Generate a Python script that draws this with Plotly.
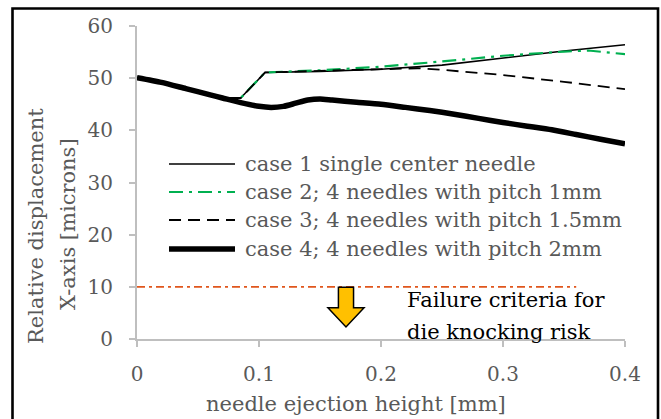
import plotly.graph_objects as go

# Needle ejection height [mm] and X-axis relative displacement [microns]
x_case1 = [0, 0.02, 0.04, 0.06, 0.07, 0.085, 0.105, 0.15, 0.2, 0.25, 0.3, 0.35, 0.4]
y_case1 = [50.1, 49.1, 47.9, 46.7, 46.2, 46.2, 51.1, 51.3, 51.7, 52.5, 53.9, 55.2, 56.4]

x_case2 = [0, 0.02, 0.04, 0.06, 0.07, 0.085, 0.105, 0.15, 0.2, 0.25, 0.3, 0.35, 0.37, 0.4]
y_case2 = [50.1, 49.1, 47.9, 46.7, 46.2, 46.2, 51.1, 51.5, 52.2, 53.2, 54.3, 55.1, 55.3, 54.6]

x_case3 = [0, 0.02, 0.04, 0.06, 0.07, 0.085, 0.105, 0.15, 0.2, 0.23, 0.25, 0.3, 0.35, 0.4]
y_case3 = [50.1, 49.1, 47.9, 46.7, 46.2, 46.2, 51.1, 51.4, 51.8, 51.9, 51.6, 50.6, 49.3, 47.9]

x_case4 = [0, 0.02, 0.04, 0.06, 0.07, 0.085, 0.1, 0.11, 0.12, 0.13, 0.14, 0.15, 0.16,
           0.18, 0.2, 0.22, 0.24, 0.26, 0.28, 0.3, 0.32, 0.34, 0.36, 0.38, 0.4]
y_case4 = [50.1, 49.2, 48.0, 46.8, 46.2, 45.3, 44.6, 44.4, 44.6, 45.2, 45.8, 46.0, 45.8,
           45.4, 45.0, 44.4, 43.8, 43.1, 42.3, 41.5, 40.8, 40.1, 39.2, 38.3, 37.4]

case_names = [
    "case 1 single center needle",
    "case 2; 4 needles with pitch 1mm",
    "case 3; 4 needles with pitch 1.5mm",
    "case 4; 4 needles with pitch 2mm",
]

# Failure criterion threshold
threshold_x = [0, 0.36]
threshold_y = [10, 10]
failure_text = ["Failure criteria for", "die knocking risk"]

x_ticks = [0, 0.1, 0.2, 0.3, 0.4]
y_ticks = [0, 10, 20, 30, 40, 50, 60]

FONT = "DejaVu Serif"
GRAY_TXT = "#595959"
AXIS_GRAY = "#bfbfbf"
GREEN = "#00b050"
ORANGE = "#e0561c"

styles = [
    dict(color="black", width=1.6, dash="solid"),
    dict(color=GREEN, width=2.2, dash="14px,6px,3px,6px"),
    dict(color="black", width=1.8, dash="12px,7px"),
    dict(color="black", width=5.5, dash="solid"),
]

fig = go.Figure()
series = [(x_case1, y_case1), (x_case2, y_case2), (x_case3, y_case3), (x_case4, y_case4)]
for (xs, ys), name, st in zip(series, case_names, styles):
    fig.add_trace(go.Scatter(
        x=xs, y=ys, mode="lines", name=name, showlegend=False,
        line=dict(color=st["color"], width=st["width"], dash=st["dash"],
                  shape="spline" if st["width"] > 4 else "linear", smoothing=0.6),
    ))

fig.add_trace(go.Scatter(
    x=threshold_x, y=threshold_y, mode="lines", showlegend=False,
    line=dict(color=ORANGE, width=1.8, dash="8px,4px,3px,4px"),
))

W, H = 661, 419
L, R, T, B = 137, 36, 26, 80
PW, PH = W - L - R, H - T - B


def px_x(p):
    return (p - L) / PW


def px_y(p):
    return (H - B - p) / PH


shapes = []
annotations = []

# Outer chart frame
shapes.append(dict(type="rect", xref="paper", yref="paper",
                   x0=px_x(12.5), x1=px_x(658), y0=px_y(430), y1=px_y(8.5),
                   line=dict(color="black", width=2.6), fillcolor="rgba(0,0,0,0)"))

# Legend drawn inside the plot area
legend_rows = [164, 192, 220, 249]
for name, st, ry in zip(case_names, styles, legend_rows):
    shapes.append(dict(type="line", xref="paper", yref="paper",
                       x0=px_x(169), x1=px_x(235), y0=px_y(ry), y1=px_y(ry),
                       line=dict(color=st["color"], width=st["width"], dash=st["dash"])))
    annotations.append(dict(text=name, xref="paper", yref="paper",
                            x=px_x(243), y=px_y(ry), xanchor="left", yanchor="middle",
                            showarrow=False, font=dict(family=FONT, size=21, color=GRAY_TXT)))

# Down arrow below the threshold line
ax_c, shaft_w, head_w = 0.1713, 0.0062, 0.0148
y_top, y_head, y_tip = 9.9, 6.0, 2.3
arrow_path = (f"M {ax_c - shaft_w},{y_top} L {ax_c + shaft_w},{y_top} "
              f"L {ax_c + shaft_w},{y_head} L {ax_c + head_w},{y_head} "
              f"L {ax_c},{y_tip} L {ax_c - head_w},{y_head} "
              f"L {ax_c - shaft_w},{y_head} Z")
shapes.append(dict(type="path", xref="x", yref="y", path=arrow_path,
                   fillcolor="#ffc000", line=dict(color="black", width=1.5)))

# Failure criterion note
for txt, py in zip(failure_text, [300, 332]):
    annotations.append(dict(text=txt, xref="paper", yref="paper",
                            x=px_x(405), y=px_y(py), xanchor="left", yanchor="middle",
                            showarrow=False, font=dict(family=FONT, size=21, color="black")))

# Axis titles
annotations.append(dict(text="needle ejection height [mm]", xref="paper", yref="paper",
                        x=px_x(356), y=px_y(404), xanchor="center", yanchor="middle",
                        showarrow=False, font=dict(family=FONT, size=21, color=GRAY_TXT)))
annotations.append(dict(text="Relative displacement", xref="paper", yref="paper",
                        x=px_x(36), y=px_y(226), xanchor="center", yanchor="middle",
                        textangle=-90, showarrow=False,
                        font=dict(family=FONT, size=21, color=GRAY_TXT)))
annotations.append(dict(text="X-axis [microns]", xref="paper", yref="paper",
                        x=px_x(68), y=px_y(224), xanchor="center", yanchor="middle",
                        textangle=-90, showarrow=False,
                        font=dict(family=FONT, size=21, color=GRAY_TXT)))

fig.update_layout(
    width=W, height=H, autosize=False,
    margin=dict(l=L, r=R, t=T, b=B, pad=0),
    paper_bgcolor="white", plot_bgcolor="white",
    showlegend=False,
    shapes=shapes, annotations=annotations,
    xaxis=dict(range=[0, 0.4], tickvals=x_ticks, ticktext=[f"{v:g}" for v in x_ticks],
               showgrid=False, zeroline=False, showline=True, linecolor=AXIS_GRAY,
               linewidth=2, ticks="outside", ticklen=6, tickwidth=2, tickcolor=AXIS_GRAY,
               ticklabelstandoff=10,
               tickfont=dict(family=FONT, size=20, color=GRAY_TXT)),
    yaxis=dict(range=[0, 60], tickvals=y_ticks, ticktext=[str(v) for v in y_ticks],
               showgrid=False, zeroline=False, showline=True, linecolor=AXIS_GRAY,
               linewidth=2, ticks="outside", ticklen=6, tickwidth=2, tickcolor=AXIS_GRAY,
               ticklabelstandoff=12,
               tickfont=dict(family=FONT, size=20, color=GRAY_TXT)),
)

fig.write_html("out.html")
